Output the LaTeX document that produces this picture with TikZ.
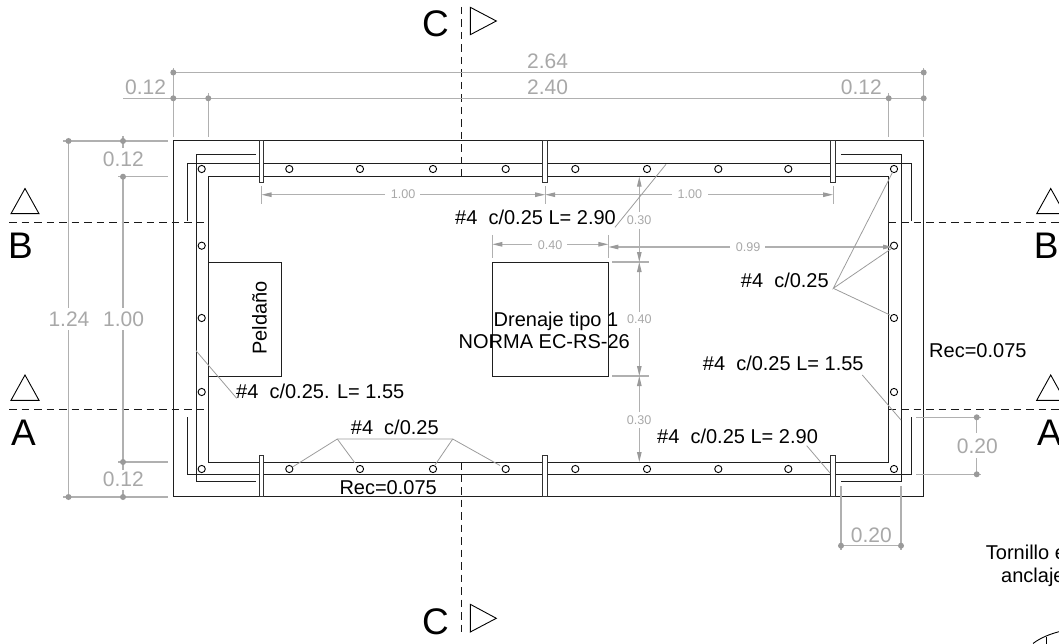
\documentclass[tikz,border=0pt]{standalone}
\usepackage{fontspec}
\setmainfont{Liberation Sans}
\usetikzlibrary{arrows.meta}
\definecolor{dimc}{HTML}{B0B0B0}
\definecolor{dimt}{HTML}{A8A8A8}
\definecolor{dotc}{HTML}{9A9A9A}
\definecolor{lead}{HTML}{9C9C9C}
\tikzset{
  x=1pt,y=-1pt,
  wall/.style={draw=black!88,line width=1pt},
  rodbar/.style={draw=black!80,line width=1pt,fill=white},
  hole/.style={draw=black,line width=.9pt,fill=white,circle,minimum size=7.2pt,inner sep=0pt},
  cutline/.style={draw=black!90,line width=1pt,dash pattern=on 7.5pt off 5pt},
  tri/.style={draw=black,line width=.9pt},
  dimline/.style={draw=dimc,line width=1.1pt},
  dimar/.style={draw=dimc,line width=1.1pt,-{Triangle[length=10pt,width=4.5pt,color=dotc,fill=dotc]}},
  leader/.style={draw=lead,line width=.8pt},
  dimdot/.style={circle,fill=dotc,minimum size=6pt,inner sep=0pt},
  bigdim/.style={anchor=base west,inner sep=0pt,text=dimt,font=\fontsize{21}{21}\selectfont},
  smalldim/.style={anchor=base west,inner sep=0pt,text=dimt,font=\fontsize{12.6}{13}\selectfont},
  note/.style={anchor=base west,inner sep=0pt,text=black,font=\fontsize{20}{20}\selectfont},
  secmark/.style={anchor=base west,inner sep=0pt,text=black,font=\fontsize{37}{37}\selectfont},
}
\begin{document}
\begin{tikzpicture}
\useasboundingbox (0,0) rectangle (1059,644);
% section lines
\draw[cutline] (9,223)--(208.3,223);
\draw[cutline] (888.7,223)--(1059,223);
\draw[cutline] (9,409.3)--(208.3,409.3);
\draw[cutline] (888.7,409.3)--(1059,409.3);
\draw[cutline] (461.7,7)--(461.7,176.7);
\draw[cutline] (461.7,462)--(461.7,633);
% section marks
\draw[tri] (11,213.7)--(25,188.5)--(39,213.7)--cycle;
\draw[tri] (1036.7,213.7)--(1050.7,188.5)--(1064.7,213.7)--cycle;
\draw[tri] (11,400.3)--(25,375)--(39,400.3)--cycle;
\draw[tri] (1036.7,400.3)--(1050.7,375)--(1064.7,400.3)--cycle;
\draw[tri] (470.3,7.3)--(496.3,21)--(470.3,34.7)--cycle;
\draw[tri] (470.3,604.3)--(496.3,618.3)--(470.3,632)--cycle;
\node[secmark] (mB1) at (8,258.3) {B};
\node[secmark] (mB2) at (1033.7,258.3) {B};
\node[secmark] (mA1) at (11,445) {A};
\node[secmark] (mA2) at (1037,445) {A};
\node[secmark] (mC1) at (422,37) {C};
\node[secmark] (mC2) at (422,634.5) {C};
% outer and inner walls
\draw[wall] (173.3,141) rectangle (923.7,496.7);
\draw[wall] (208.3,176.7) rectangle (888.7,462);
% reinforcement
\draw[wall] (187.5,220.7)--(187.5,164)--(911.7,164)--(911.7,220.7);
\draw[wall] (187.5,417.3)--(187.5,474.3)--(911.7,474.3)--(911.7,417.3);
\draw[wall] (255.7,155)--(196,155)--(196,481)--(255.7,481);
\draw[wall] (841,155)--(901,155)--(901,481)--(841,481);
% bars
\foreach \n/\x in {a/259.2,b/542.9,c/830.8}{
  \draw[rodbar] (\x,141) rectangle ++(4.6,42);
  \draw[rodbar] (\x,455.3) rectangle ++(4.6,41.4);
}
% holes
\foreach \x in {201.7,289.3,360,433,505.7,575.3,647,718.3,788.3,894}{
  \node[hole] at (\x,169) {};
  \node[hole] at (\x,469) {};
}
\foreach \y in {245.7,318,392}{
  \node[hole] at (201.7,\y) {};
  \node[hole] at (894,\y) {};
}
% boxes
\draw[wall] (208.3,262) rectangle (281.7,376.3);
\draw[wall] (492.3,262) rectangle (608.3,376);
% overall dimensions
\draw[dimline] (173.3,68)--(173.3,137);
\draw[dimline] (208.3,93)--(208.3,137);
\draw[dimline] (888.7,93)--(888.7,137);
\draw[dimline] (923.7,68)--(923.7,137);
\draw[dimline] (173.3,72.5)--(923.7,72.5);
\draw[dimline] (123,98.3)--(923.7,98.3);
\foreach \x/\y in {173.3/72.5,923.7/72.5,173.3/98.3,208.3/98.3,888.7/98.3,923.7/98.3}{\node[dimdot] at (\x,\y) {};}
\draw[dimline] (63,141)--(168,141);
\draw[dimline] (118,176.7)--(168,176.7);
\draw[dimline] (118,462)--(168,462);
\draw[dimline] (63,497)--(168,497);
\draw[dimline] (68.5,141)--(68.5,308);
\draw[dimline] (68.5,330)--(68.5,497);
\draw[dimline] (123,136)--(123,148);
\draw[dimline] (123,176.7)--(123,308);
\draw[dimline] (123,330)--(123,462);
\draw[dimline] (123,462)--(123,470);
\draw[dimline] (123,490)--(123,497);
\foreach \x/\y in {68.5/141,123/141,123/176.7,123/462,68.5/497,123/497}{\node[dimdot] at (\x,\y) {};}
\draw[dimline] (916,417.3)--(981,417.3);
\draw[dimline] (916,474.3)--(981,474.3);
\draw[dimline] (976.7,417.3)--(976.7,433);
\draw[dimline] (976.7,458)--(976.7,474.3);
\node[dimdot] at (976.7,417.3) {};
\node[dimdot] at (976.7,474.3) {};
\draw[dimline] (841,486)--(841,550);
\draw[dimline] (901,486)--(901,550);
\draw[dimline] (841,545.7)--(901,545.7);
\node[dimdot] at (841,545.7) {};
\node[dimdot] at (901,545.7) {};
% inner dimensions
\draw[dimline] (261.5,186)--(261.5,204);
\draw[dimline] (545.2,186)--(545.2,204);
\draw[dimline] (833.1,186)--(833.1,204);
\draw[dimar] (385,194.7)--(261.5,194.7);
\draw[dimar] (420,194.7)--(545.2,194.7);
\draw[dimar] (672,194.7)--(545.2,194.7);
\draw[dimar] (708,194.7)--(833.1,194.7);
\draw[dimline] (492.3,235)--(492.3,258);
\draw[dimline] (608.3,235)--(608.3,258);
\draw[dimar] (532,244.3)--(492.3,244.3);
\draw[dimar] (567,244.3)--(608.3,244.3);
\draw[dimar] (730,247)--(608.3,247);
\draw[dimar] (765,247)--(893,247);
\draw[dimline] (612,262)--(649,262);
\draw[dimline] (612,376)--(649,376);
\draw[dimar] (639.3,212)--(639.3,176.7);
\draw[dimar] (639.3,229)--(639.3,262);
\draw[dimar] (639.3,312)--(639.3,262);
\draw[dimar] (639.3,328)--(639.3,376);
\draw[dimar] (639.3,412)--(639.3,376);
\draw[dimar] (639.3,428)--(639.3,462);
% leaders
\draw[leader] (615,227.3)--(666,164.3);
\draw[leader] (892.7,172)--(833.3,288.3)--(891.5,248.5);
\draw[leader] (833.3,288.3)--(890,315);
\draw[leader] (862.3,375)--(901,420);
\draw[leader] (806.7,445.7)--(830,473);
\draw[leader] (196,350.7)--(236.7,398.3);
\draw[leader] (293,466.7)--(337.3,439)--(452.7,439)--(500,465.5);
\draw[leader] (337.3,439)--(355,463);
\draw[leader] (452.7,439)--(435,465);
% big dimension labels
\node[bigdim] (d264) at (527,69) {2.64};
\node[bigdim] (d240) at (527,95) {2.40};
\node[bigdim] (d12a) at (125,95) {0.12};
\node[bigdim] (d12b) at (840.7,95) {0.12};
\node[bigdim] (d12c) at (102.7,166.7) {0.12};
\node[bigdim] (d12d) at (102.7,486.7) {0.12};
\node[bigdim] (d124) at (48.3,326.7) {1.24};
\node[bigdim] (d100) at (103,326.7) {1.00};
\node[bigdim] (d20a) at (956.7,453.3) {0.20};
\node[bigdim] (d20b) at (850.7,542.7) {0.20};
% small dimension labels
\node[smalldim] (s100a) at (390.7,199) {1.00};
\node[smalldim] (s100b) at (677.3,199) {1.00};
\node[smalldim] (s40a) at (537.7,249) {0.40};
\node[smalldim] (s99) at (735.7,251.7) {0.99};
\node[smalldim] (s30a) at (626.7,224.3) {0.30};
\node[smalldim] (s40b) at (627,323.5) {0.40};
\node[smalldim] (s30b) at (626.7,424) {0.30};
% notes
\node[note] (n1) at (455,224.3) {\#4\ \ c/0.25 L= 2.90};
\node[note] (n2) at (740.7,287.3) {\#4\ \ c/0.25};
\node[note] (n3) at (702.7,370.7) {\#4\ \ c/0.25 L= 1.55};
\node[note] (n4) at (657,443.3) {\#4\ \ c/0.25 L= 2.90};
\node[note] (n5) at (236,398.3) {\#4\ \ c/0.25. L= 1.55};
\node[note] (n6) at (350.7,434) {\#4\ \ c/0.25};
\node[note] (n7) at (339.3,494) {Rec=0.075};
\node[note] (n8) at (929,357.7) {Rec=0.075};
\node[note] (n9) at (493.5,326) {Drenaje tipo 1};
\node[note] (n10) at (458.5,348.3) {NORMA EC-RS-26};
\node[note,rotate=90] (n11) at (266.7,355) {Peldaño};
\node[note] (n12) at (985.7,559) {Tornillo e};
\node[note] (n13) at (1001,582.7) {anclaje};
% cut-off detail
\draw[draw=black,line width=.9pt] (1033,643.5) .. controls (1040,638) and (1050,634) .. (1059,631.7);
\draw[draw=black,line width=.9pt] (1046.7,637)--(1046.7,644);
\end{tikzpicture}
\end{document}
